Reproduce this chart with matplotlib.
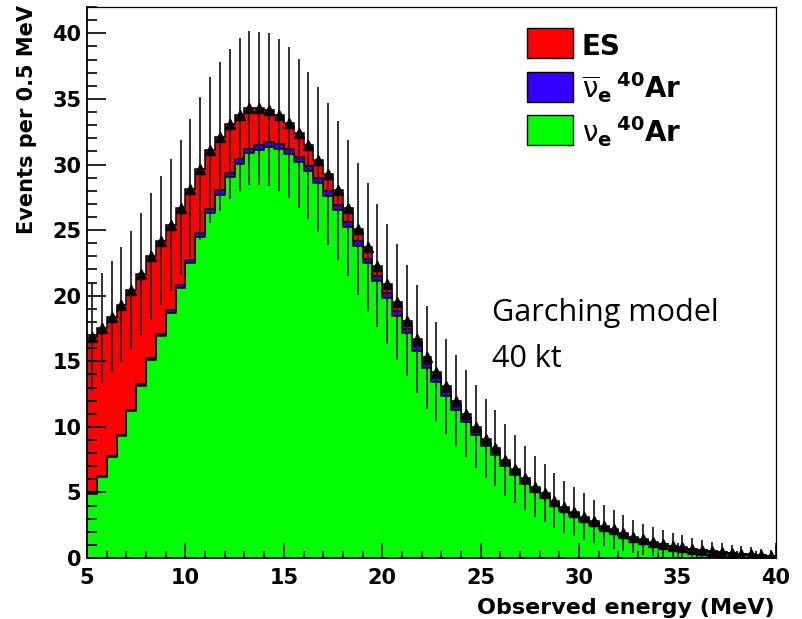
import numpy as np
import matplotlib
matplotlib.use('Agg')
import matplotlib.pyplot as plt
from matplotlib.patches import Rectangle
from matplotlib.ticker import MultipleLocator

plt.rcParams['font.family'] = ['DejaVu Sans']
plt.rcParams['mathtext.fontset'] = 'dejavusans'

# 0.5 MeV bins from 5 to 40 MeV
edges = np.linspace(5, 40, 71)

# nu_e 40Ar (green)
nue_ar = [4.90, 6.20, 7.70, 9.30, 11.20, 13.10, 15.10, 16.90, 18.70, 20.60,
          22.50, 24.50, 26.30, 27.70, 29.05, 30.05, 30.85, 31.10, 31.30, 31.20,
          30.80, 30.20, 29.50, 28.60, 27.60, 26.50, 25.27, 23.77, 22.46, 21.13,
          19.81, 18.47, 17.14, 15.79, 14.45, 13.40, 12.35, 11.30, 10.34, 9.38,
          8.52, 7.86, 6.99, 6.32, 5.65, 5.03, 4.55, 4.01, 3.58, 3.22,
          2.86, 2.52, 2.21, 1.96, 1.67, 1.43, 1.25, 1.08, 0.95, 0.81,
          0.71, 0.61, 0.52, 0.45, 0.39, 0.32, 0.28, 0.23, 0.19, 0.15]

# anti-nu_e 40Ar (blue)
nuebar_ar = [0.05, 0.06, 0.08, 0.10, 0.12, 0.14, 0.16, 0.18, 0.20, 0.22,
             0.25, 0.28, 0.30, 0.32, 0.34, 0.36, 0.37, 0.38, 0.38, 0.38,
             0.38, 0.38, 0.38, 0.38, 0.38, 0.38, 0.38, 0.38, 0.37, 0.37,
             0.36, 0.36, 0.35, 0.35, 0.34, 0.33, 0.32, 0.31, 0.30, 0.29,
             0.28, 0.27, 0.26, 0.25, 0.24, 0.22, 0.21, 0.20, 0.19, 0.18,
             0.17, 0.16, 0.15, 0.14, 0.13, 0.12, 0.11, 0.10, 0.09, 0.08,
             0.07, 0.065, 0.06, 0.05, 0.045, 0.04, 0.035, 0.03, 0.025, 0.02]

# elastic scattering (red)
es = [11.90, 11.30, 10.60, 9.90, 9.10, 8.40, 7.80, 7.10, 6.50, 5.90,
      5.40, 4.90, 4.50, 4.10, 3.70, 3.40, 3.10, 2.80, 2.50, 2.20,
      2.00, 1.80, 1.60, 1.40, 1.30, 1.15, 1.05, 0.95, 0.87, 0.80,
      0.73, 0.67, 0.61, 0.56, 0.51, 0.47, 0.43, 0.39, 0.36, 0.33,
      0.30, 0.27, 0.25, 0.23, 0.21, 0.19, 0.17, 0.16, 0.14, 0.13,
      0.12, 0.11, 0.10, 0.09, 0.08, 0.07, 0.065, 0.06, 0.055, 0.05,
      0.045, 0.04, 0.035, 0.03, 0.03, 0.025, 0.02, 0.02, 0.015, 0.01]

labels = ['ES',
          r'$\overline{\mathrm{\nu}}_{\mathbf{e}}\,{}^{\mathbf{40}}\mathbf{Ar}$',
          r'$\mathrm{\nu}_{\mathbf{e}}\,{}^{\mathbf{40}}\mathbf{Ar}$']
colors = ['#ff0000', '#3300ff', '#00ff00']

green = np.array(nue_ar)
blue = green + np.array(nuebar_ar)
total = blue + np.array(es)
centers = 0.5 * (edges[:-1] + edges[1:])

fig = plt.figure(figsize=(8.02, 6.19), dpi=100)
ax = fig.add_axes([0.1085, 0.0985, 0.859, 0.890])

for vals, c in zip([total, blue, green], colors):
    ax.stairs(vals, edges, fill=True, color=c, zorder=1)
    ax.stairs(vals, edges, color='black', lw=1.1, zorder=1.2)

ax.errorbar(centers, total, yerr=np.sqrt(total), fmt='^', color='black',
            ecolor='#222222', ms=6.5, elinewidth=1.3, capsize=0, zorder=3)

ax.set_xlim(5, 40)
ax.set_ylim(0, 42)
ax.xaxis.set_major_locator(MultipleLocator(5))
ax.xaxis.set_minor_locator(MultipleLocator(1))
ax.yaxis.set_major_locator(MultipleLocator(5))
ax.yaxis.set_minor_locator(MultipleLocator(1))
ax.set_axisbelow(False)
ax.tick_params(axis='y', which='major', direction='in', length=14, width=1.2,
               labelsize=15, pad=4)
ax.tick_params(axis='y', which='minor', direction='in', length=7, width=1.2)
ax.tick_params(axis='x', which='major', direction='in', length=11, width=1.2,
               labelsize=15, pad=7)
ax.tick_params(axis='x', which='minor', direction='in', length=5, width=1.2)
for lab in ax.get_xticklabels() + ax.get_yticklabels():
    lab.set_fontweight('bold')
for s in ['left', 'bottom']:
    ax.spines[s].set_linewidth(1.3)
for s in ['top', 'right']:
    ax.spines[s].set_linewidth(0.9)

fig.text(775 / 802, 1 - 618 / 619, 'Observed energy (MeV)', fontsize=16,
         fontweight='bold', ha='right', va='bottom')
fig.text(27 / 802, 1 - 5 / 619, 'Events per 0.5 MeV', fontsize=15,
         fontweight='bold', rotation=90, ha='center', va='top')

# legend
box_tops = [0.9613, 0.8826, 0.8040]
for lab, c, yt in zip(labels, colors, box_tops):
    ax.add_patch(Rectangle((0.6386, yt - 0.0544), 0.0668, 0.0544,
                           transform=ax.transAxes, facecolor=c,
                           edgecolor='black', lw=1, clip_on=False, zorder=4))
    ax.text(0.7184, yt - 0.0544 + 0.006, lab, transform=ax.transAxes,
            fontsize=20, fontweight='bold', ha='left', va='baseline', zorder=4)

ax.text(25.55, 18.1, 'Garching model', fontsize=22, family='Open Sans',
        ha='left', va='baseline')
ax.text(25.55, 14.56, '40 kt', fontsize=22, family='Open Sans',
        ha='left', va='baseline')

fig.savefig('out.png', dpi=100)
